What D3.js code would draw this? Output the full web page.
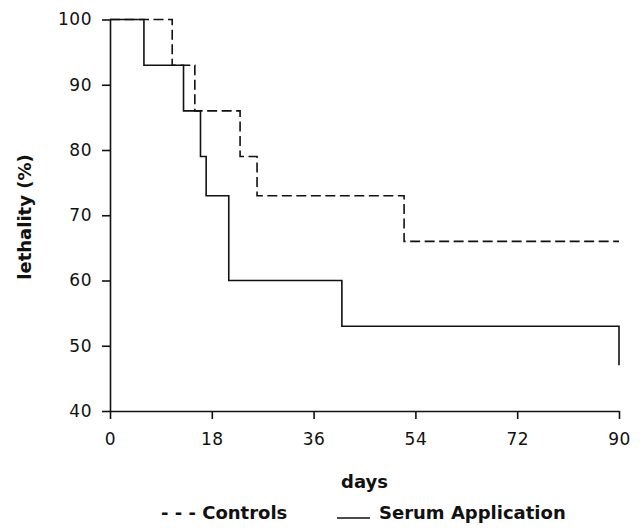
<!DOCTYPE html>
<html>
<head>
<meta charset="utf-8">
<script src="https://cdn.jsdelivr.net/npm/d3@7"></script>
<style>
  body { margin: 0; background: #fff; }
  .tick text { font-family: "DejaVu Sans", sans-serif; font-size: 17px; letter-spacing: 0.5px; fill: #111; }
  .lbl { font-family: "DejaVu Sans", sans-serif; font-weight: bold; font-size: 18px; fill: #111; }
</style>
</head>
<body>
<div id="chart"></div>
<script type="text/javascript">
//step points (day, lethality %)
var serumDays = [0, 6, 13, 16, 17, 21, 41, 90];
var serumVals = [100, 93, 86, 79, 73, 60, 53, 47];
var controlDays = [0, 11, 15, 23, 26, 52, 90];
var controlVals = [100, 93, 86, 79, 73, 66, 66];

var xTicks = [0, 18, 36, 54, 72, 90];
var yTicks = [40, 50, 60, 70, 80, 90, 100];

var width = 643, height = 530;
var plotLeft = 110, plotRight = 619, plotTop = 19.5, plotBottom = 411;

var svg = d3.select("#chart").append("svg")
    .attr("width", width)
    .attr("height", height);

var x = d3.scaleLinear().domain([0, 90]).range([plotLeft, plotRight]);
var y = d3.scaleLinear().domain([40, 100]).range([plotBottom, plotTop]);

//axes
svg.append("g")
    .attr("transform", "translate(0," + plotBottom + ")")
    .call(d3.axisBottom(x).tickValues(xTicks).tickSize(8).tickSizeOuter(0).tickPadding(14));
svg.append("g")
    .attr("transform", "translate(" + plotLeft + ",0)")
    .call(d3.axisLeft(y).tickValues(yTicks).tickSize(8).tickSizeOuter(0).tickPadding(10));

svg.selectAll(".domain, .tick line")
    .attr("stroke", "#111")
    .attr("stroke-width", 1.6);

//step lines
var line = d3.line()
    .x(function (d) { return x(d[0]); })
    .y(function (d) { return y(d[1]); })
    .curve(d3.curveStepAfter);

svg.append("path")
    .datum(d3.zip(controlDays, controlVals))
    .attr("d", line)
    .attr("fill", "none")
    .attr("stroke", "#111")
    .attr("stroke-width", 1.6)
    .attr("stroke-dasharray", "10,4.5");

svg.append("path")
    .datum(d3.zip(serumDays, serumVals))
    .attr("d", line)
    .attr("fill", "none")
    .attr("stroke", "#111")
    .attr("stroke-width", 1.6);

//axis titles
svg.append("text")
    .attr("class", "lbl")
    .attr("x", (plotLeft + plotRight) / 2)
    .attr("y", 488)
    .attr("text-anchor", "middle")
    .text("days");

svg.append("text")
    .attr("class", "lbl")
    .attr("transform", "translate(31,217) rotate(-90)")
    .attr("text-anchor", "middle")
    .text("lethality (%)");

//legend
svg.append("text")
    .attr("class", "lbl")
    .attr("x", 161)
    .attr("y", 519)
    .text("- - - Controls");

svg.append("line")
    .attr("x1", 337).attr("x2", 370)
    .attr("y1", 518).attr("y2", 518)
    .attr("stroke", "#111")
    .attr("stroke-width", 1.6);

svg.append("text")
    .attr("class", "lbl")
    .attr("x", 379)
    .attr("y", 519)
    .text("Serum Application");
</script>
</body>
</html>
